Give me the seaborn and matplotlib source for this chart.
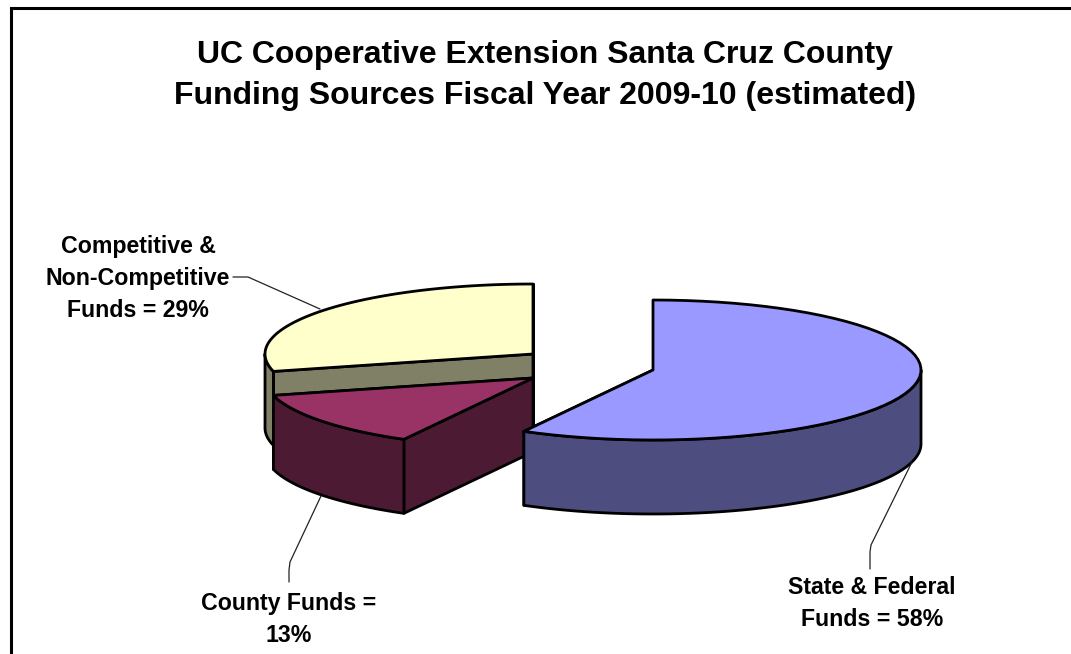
import numpy as np
import matplotlib
matplotlib.use("Agg")
import matplotlib.pyplot as plt
import seaborn as sns
from matplotlib.patches import Polygon

TITLE = "UC Cooperative Extension Santa Cruz County\nFunding Sources Fiscal Year 2009-10 (estimated)"

# clockwise from 12 o'clock, same order as the original pie
categories = ["State & Federal Funds", "County Funds", "Competitive & Non-Competitive Funds"]
shares = [58, 13, 29]
slice_labels = ["State & Federal\nFunds = 58%", "County Funds =\n13%", "Competitive &\nNon-Competitive\nFunds = 29%"]

top_colors = ["#9999FF", "#993366", "#FFFFCC"]
side_colors = ["#4D4D80", "#4D1A33", "#808066"]

# pixel layout of the exploded pie
centers = [(653, 370), (533, 378), (533, 354)]
RX, RY = 268, 70
DEPTH = 74
LW = 2.0


def arc(center, start, end, n=60):
    t = np.radians(np.linspace(start, end, n))
    return np.column_stack([center[0] + RX * np.sin(t), center[1] - RY * np.cos(t)])


def face(ax, points, color):
    ax.add_patch(Polygon(points, closed=True, facecolor=color, edgecolor="black",
                         linewidth=LW, joinstyle="round"))


def draw_slice(ax, center, start, end, top, side):
    apex = np.array(center, dtype=float)
    drop = np.array([0, DEPTH])

    # radial faces, back one first
    for angle in (end, start):
        edge = arc(center, angle, angle, 1)[0]
        face(ax, [apex, edge, edge + drop, apex + drop], side)

    # outer wall, only the front half of the ellipse shows
    lo, hi = max(start, 90), min(end, 270)
    if hi > lo:
        rim = arc(center, lo, hi)
        face(ax, np.vstack([rim, (rim + drop)[::-1]]), side)

    face(ax, np.vstack([[apex], arc(center, start, end)]), top)


sns.set_theme(style="white")
plt.rcParams["font.family"] = ["Liberation Sans", "DejaVu Sans"]

fig = plt.figure(figsize=(10.71, 6.54), dpi=100)
ax = fig.add_axes([0, 0, 1, 1])
ax.set_xlim(0, 1071)
ax.set_ylim(654, 0)
ax.axis("off")

# chart frame, cut by the image on the right and bottom
ax.plot([11, 11, 1071], [654, 8, 8], color="black", lw=2.2, solid_joinstyle="miter")

ax.text(545, 75.5, TITLE, ha="center", va="center", fontsize=23, fontweight="bold",
        color="black", linespacing=1.49)

# slice start angles come from the shares; back slice first so the front overlaps it
edges = np.cumsum([0] + shares) * 3.6
for i in [2, 1, 0]:
    draw_slice(ax, centers[i], edges[i], edges[i + 1], top_colors[i], side_colors[i])

# leader lines
leader = dict(color="#222222", lw=0.9)
ax.plot([233, 248, 320], [277, 277, 309], **leader)
ax.plot([321, 290, 289, 289], [496, 562, 570, 582], **leader)
ax.plot([912, 871, 870, 870], [462, 545, 552, 569], **leader)

label_xy = [(872, 603.5), (289, 619.5), (138, 278.5)]
for text, (x, y) in zip(slice_labels, label_xy):
    ax.text(x, y, text, ha="center", va="center", fontsize=16.7, fontweight="bold",
            color="black", linespacing=1.5)

fig.savefig("out.png", dpi=100)
